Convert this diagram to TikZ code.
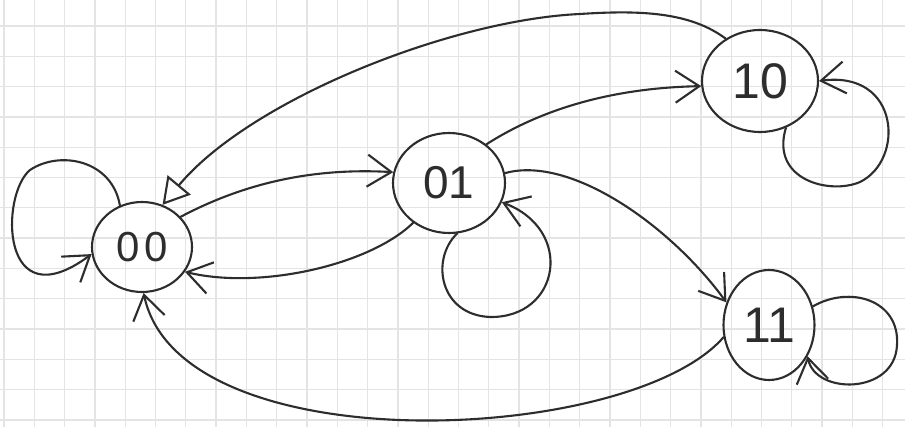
\documentclass[tikz,border=0pt]{standalone}
\usepackage{fontspec}
\setmainfont{Liberation Sans}
\usetikzlibrary{arrows.meta,shapes.geometric}
\definecolor{ink}{RGB}{45,45,45}
\definecolor{gridc}{RGB}{228,228,228}
\tikzset{
  state/.style={draw=ink, line width=2.1pt, ellipse, inner sep=0pt, text=ink},
  edge/.style={draw=ink, line width=2.1pt, line cap=round,
    -{Straight Barb[length=24pt,width=32pt,line width=2.1pt]}},
  openedge/.style={draw=ink, line width=2.1pt, line cap=round,
    -{Triangle[open,length=26pt,width=30pt,line width=2.1pt]}},
  gridline/.style={draw=gridc, line width=1.3pt},
}
\begin{document}
\begin{tikzpicture}[x=1pt,y=-1pt]
\useasboundingbox (0,0) rectangle (905,427);
\fill[white] (0,0) rectangle (905,427);
% grid paper
\foreach \i in {0,...,29} {
  \draw[gridline] ({4+\i*30.3},0) -- ({4+\i*30.3},427);
}
\foreach \j in {-1,...,13} {
  \draw[gridline] (0,{26+\j*30.3}) -- (905,{26+\j*30.3});
}
% states
\node[state, minimum width=100pt, minimum height=90pt,
  font=\fontsize{42}{42}\selectfont\addfontfeatures{LetterSpace=12}] (n00) at (142,247) {00};
\node[state, minimum width=112pt, minimum height=100pt,
  font=\fontsize{46}{46}\selectfont] (n01) at (449,183) {01};
\node[state, minimum width=116pt, minimum height=102pt,
  font=\fontsize{50}{50}\selectfont] (n10) at (760,81) {10};
\node[state, minimum width=91pt, minimum height=110pt,
  font=\fontsize{50}{50}\selectfont] (n11) at (769,325) {11};
% transitions
\draw[edge] (n00.38) .. controls (250,180) and (320,168) .. (n01.169);
\draw[edge] (n01.228) .. controls (370,265) and (260,290) .. (n00.-30);
\draw[edge] (n01.46) .. controls (540,110) and (610,88) .. (n10.185);
\draw[edge] (n01.10) .. controls (570,155) and (670,225) .. (n11.152);
\draw[openedge] (n10.129) .. controls (690,12) and (640,10) .. (580,14)
  .. controls (450,20) and (250,100) .. (n00.64);
\draw[edge] (n11.195) .. controls (630,445) and (180,465) .. (n00.-88);
% self loops
\draw[edge] (n00.118) .. controls (112,160) and (60,150) .. (30,170)
  .. controls (0,195) and (0,322) .. (n00.188);
\draw[edge] (n01.-81) .. controls (430,260) and (440,315) .. (490,317)
  .. controls (560,318) and (575,230) .. (n01.-20);
\draw[edge] (n10.-61) .. controls (770,180) and (830,195) .. (860,182)
  .. controls (905,160) and (900,70) .. (n10.0);
\draw[edge] (n11.23) .. controls (850,285) and (900,300) .. (897,345)
  .. controls (895,395) and (815,395) .. (n11.-39);
\end{tikzpicture}
\end{document}
